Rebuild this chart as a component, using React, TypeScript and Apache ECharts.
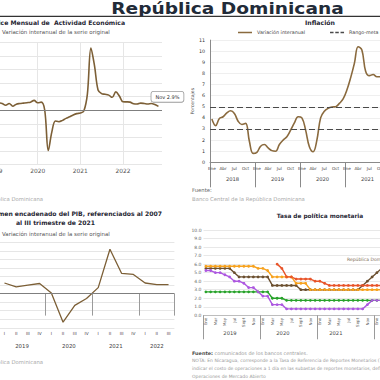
import React, { useEffect, useRef } from "react";
import * as echarts from "echarts";

const mainTitle = "República Dominicana";
const monthAbbr = ["Ene", "Feb", "Mar", "Abr", "May", "Jun", "Jul", "Ago", "Sept", "Oct", "Nov", "Dic"];

// Panel 1: IMAE (monthly, Jan 2019 - Dec 2022)
const imaeYears = ["2019", "2020", "2021", "2022"];
const imaeValues: (number | null)[] = [
  6.0, 5.5, 5.0, 3.7, 5.0, 3.0, 4.5, 5.0, 5.3, 5.6, 6.0, 7.3,
  5.5, 6.0, 0.0, -29.8, -16.0, -8.0, -8.5, -7.5, -6.0, -4.8, -3.5, -2.5,
  -2.0, -0.5, 12.0, 46.0, 33.0, 15.0, 12.3, 11.8, 11.2, 9.6, 13.6, 10.5,
  6.3, 6.2, 6.0, 4.8, 4.6, 5.3, 5.0, 4.6, 5.0, 4.2, 2.9, null,
];
const imaeLastLabel = "Nov 2.9%";

// Panel 2: inflation (monthly, Jan 2018 - Dec 2021)
const inflYears = ["2018", "2019", "2020", "2021"];
const inflValues = [
  3.9, 3.3, 3.95, 4.1, 4.45, 4.64, 4.4, 3.7, 3.4, 3.5, 1.9, 0.8,
  0.9, 1.45, 1.6, 1.3, 1.05, 1.0, 1.6, 2.0, 2.3, 2.9, 3.55, 4.1,
  4.0, 2.9, 1.4, 0.95, 2.0, 4.0, 4.6, 4.85, 4.97, 5.0, 5.3, 5.7,
  6.5, 7.6, 8.9, 10.4, 10.1, 8.2, 7.8, 7.9, 7.7, 7.7, 7.5, 8.5,
];
const inflTargetBand = [3, 5];

// Panel 3: GDP (quarterly, 2019 Q1 - 2022 Q3)
const pibYears = ["2019", "2020", "2021", "2022"];
const pibQuarters = ["I", "II", "III", "IV", "I", "II", "III", "IV", "I", "II", "III", "IV", "I", "II", "III"];
const pibValues = [6.2, 3.9, 4.9, 5.9, 0.4, -16.7, -6.9, -2.9, 3.5, 25.9, 11.8, 11.2, 6.2, 5.3, 5.3];

// Panel 4: policy rates (monthly, Jan 2019 - Mar 2022)
const tpmYears = ["2019", "2020", "2021", "2022"];
const tpmMonthCount = 39;
const tpmDominicana = [
  5.5, 5.5, 5.5, 5.5, 5.5, 5.5, 5.0, 4.5, 4.5, 4.5, 4.5, 4.5,
  4.5, 4.5, 3.5, 3.5, 3.5, 3.5, 3.5, 3.5, 3.0, 3.0, 3.0, 3.0,
  3.0, 3.0, 3.0, 3.0, 3.0, 3.0, 3.0, 3.0, 3.0, 3.5, 4.0, 4.5,
  5.0, 5.5, 5.75,
];
const tpmHonduras = [
  5.75, 5.75, 5.75, 5.75, 5.75, 5.75, 5.75, 5.75, 5.75, 5.75, 5.75, 5.5,
  5.5, 5.25, 4.5, 4.5, 4.5, 4.5, 4.5, 3.75, 3.75, 3.75, 3.0, 3.0,
  3.0, 3.0, 3.0, 3.0, 3.0, 3.0, 3.0, 3.0, 3.0, 3.0, 3.0, 3.0,
  3.0, 3.0, 3.0,
];
const tpmCostaRica = [
  5.25, 5.25, 5.0, 5.0, 4.75, 4.5, 4.0, 4.0, 3.75, 3.25, 3.25, 2.75,
  2.25, 2.25, 1.25, 1.25, 1.25, 0.75, 0.75, 0.75, 0.75, 0.75, 0.75, 0.75,
  0.75, 0.75, 0.75, 0.75, 0.75, 0.75, 0.75, 0.75, 0.75, 0.75, 1.25, 1.75,
  1.75, 1.75, 2.0,
];
const tpmGuatemala = [
  2.75, 2.75, 2.75, 2.75, 2.75, 2.75, 2.75, 2.75, 2.75, 2.75, 2.75, 2.75,
  2.75, 2.75, 2.0, 2.0, 2.0, 1.75, 1.75, 1.75, 1.75, 1.75, 1.75, 1.75,
  1.75, 1.75, 1.75, 1.75, 1.75, 1.75, 1.75, 1.75, 1.75, 1.75, 1.75, 1.75,
  1.75, 1.75, 1.75,
];
const tpmNicaragua: (number | null)[] = [
  null, null, null, null, null, null, null, null, null, null, null, null,
  null, null, null, 6.0, 5.5, 4.5, 4.5, 4.25, 4.25, 4.25, 4.25, 4.0,
  4.0, 3.75, 3.5, 3.5, 3.5, 3.5, 3.5, 3.5, 3.5, 3.5, 3.5, 3.5,
  3.5, 3.5, 3.5,
];

const FONT = "DejaVu Sans";
const TITLE_COLOR = "#1f2633";
const AXIS_TEXT = "#555";
const SOURCE_TEXT = "#a8a8a8";
const LINE_BROWN = "#7c5f36";

const monthCats = (years: string[]) => years.flatMap((y) => monthAbbr.map((m) => `${m} ${y}`));

function txt(text: string, x: number, y: number, o: any = {}) {
  return {
    type: "text",
    x,
    y,
    scaleX: o.scaleX || 1,
    silent: true,
    style: {
      text,
      fontFamily: o.fontFamily || FONT,
      fontSize: o.fontSize || 6,
      fontWeight: o.fontWeight || "normal",
      fill: o.fill || AXIS_TEXT,
      align: o.align || "left",
      verticalAlign: "middle",
      rich: o.rich,
    },
  };
}

function yearFormatter(years: string[], centers: number[]) {
  return (v: number) => {
    const i = centers.findIndex((h) => Math.abs(h - v) < 1e-6);
    return i >= 0 ? years[i] : "";
  };
}

function buildOption(): any {
  const imaeCats = monthCats(imaeYears);
  const inflCats = monthCats(inflYears);
  const tpmCats = monthCats(tpmYears).slice(0, tpmMonthCount);
  const pibCats = pibQuarters.map((q, i) => `${q} ${pibYears[Math.floor(i / 4)]}`);
  const lastIdx = imaeValues.reduce((acc: number, v, i) => (v !== null ? i : acc), 0);

  const gridBase = { containLabel: false, outerBoundsMode: "none" };

  return {
    animation: false,
    backgroundColor: "#ffffff",
    textStyle: { fontFamily: FONT },
    grid: [
      { ...gridBase, left: -5, top: 42.7, width: 167, height: 121.6 },
      { ...gridBase, left: 210, top: 40.1, width: 180, height: 122.2 },
      { ...gridBase, left: -1.4, top: 242.3, width: 175.8, height: 85.5 },
      { ...gridBase, left: 203.5, top: 230, width: 185.25, height: 85.3 },
    ],
    legend: {
      data: [
        { name: "Variación interanual", icon: "path://M0 0h24v2.6H0z" },
        { name: "Rango-meta de inflación", icon: "path://M0 0h6v2.2H0z M9 0h6v2.2H9z M18 0h6v2.2h-6z" },
      ],
      left: 238,
      top: 30,
      width: 320,
      padding: 0,
      itemWidth: 14,
      itemHeight: 6,
      itemGap: 25,
      textStyle: { fontSize: 4.8, color: "#444", fontFamily: FONT },
    },
    xAxis: [
      {
        type: "category",
        gridIndex: 0,
        data: imaeCats,
        boundaryGap: false,
        axisLine: { show: false },
        axisTick: { show: false },
        axisLabel: {
          interval: 11,
          fontSize: 5.9,
          color: AXIS_TEXT,
          margin: 4,
          formatter: (v: string) => v.split(" ")[1],
        },
        splitLine: { show: true, interval: 11, lineStyle: { color: "#e6e6e6", width: 1 } },
      },
      {
        type: "category",
        gridIndex: 1,
        data: inflCats,
        boundaryGap: true,
        position: "bottom",
        axisLine: { show: true, lineStyle: { color: "#8a8a8a", width: 1 } },
        axisTick: {
          show: true,
          interval: (i: number) => i % 12 === 0,
          length: 25,
          lineStyle: { color: "#8a8a8a", width: 1 },
        },
        axisLabel: {
          interval: 2,
          fontSize: 4.2,
          color: "#444",
          margin: 4.5,
          formatter: (v: string) => v.split(" ")[0],
        },
        splitLine: { show: false },
      },
      {
        type: "value",
        gridIndex: 1,
        position: "bottom",
        min: 0,
        max: 48,
        interval: 6,
        axisLine: { show: false },
        axisTick: { show: false },
        splitLine: { show: false },
        axisLabel: {
          fontSize: 5.2,
          color: "#444",
          margin: 14.5,
          formatter: yearFormatter(inflYears, [6, 18, 30, 42]),
        },
      },
      {
        type: "category",
        gridIndex: 2,
        data: pibCats,
        boundaryGap: true,
        position: "bottom",
        axisLine: { show: false },
        axisTick: {
          show: true,
          interval: (i: number) => i % 4 === 0,
          length: 22,
          lineStyle: { color: "#9a9a9a", width: 1 },
        },
        axisLabel: {
          interval: 0,
          fontSize: 4.3,
          color: "#444",
          margin: 4,
          formatter: (v: string) => v.split(" ")[0],
        },
        splitLine: { show: false },
      },
      {
        type: "value",
        gridIndex: 2,
        position: "bottom",
        min: 0,
        max: 15,
        interval: 0.5,
        axisLine: { show: false },
        axisTick: { show: false },
        splitLine: { show: false },
        axisLabel: {
          fontSize: 5.4,
          color: "#444",
          margin: 15.5,
          formatter: yearFormatter(pibYears, [2, 6, 10, 13.5]),
        },
      },
      {
        type: "category",
        gridIndex: 3,
        data: tpmCats,
        boundaryGap: true,
        position: "bottom",
        axisLine: { show: true, lineStyle: { color: "#bdbdbd", width: 1 } },
        axisTick: {
          show: true,
          interval: (i: number) => i % 12 === 0,
          length: 24,
          lineStyle: { color: "#9a9a9a", width: 1 },
        },
        axisLabel: {
          interval: 1,
          rotate: 90,
          fontSize: 4.0,
          color: "#555",
          margin: 2.5,
          formatter: (v: string) => v.split(" ")[0],
        },
        splitLine: { show: false },
      },
      {
        type: "value",
        gridIndex: 3,
        position: "bottom",
        min: 0,
        max: 42,
        interval: 6,
        axisLine: { show: false },
        axisTick: { show: false },
        splitLine: { show: false },
        axisLabel: {
          fontSize: 5.2,
          color: "#444",
          margin: 15,
          formatter: yearFormatter(tpmYears, [6, 18, 30]),
        },
      },
    ],
    yAxis: [
      {
        type: "value",
        gridIndex: 0,
        min: -40,
        max: 50,
        interval: 10,
        axisLabel: { show: false },
        axisLine: { show: false },
        axisTick: { show: false },
        splitLine: { lineStyle: { color: "#e6e6e6", width: 1 } },
      },
      {
        type: "value",
        gridIndex: 1,
        min: 0,
        max: 11,
        interval: 1,
        name: "Porcentajes",
        nameLocation: "middle",
        nameRotate: 90,
        nameGap: 12,
        nameTextStyle: { fontSize: 4.6, color: "#555", fontFamily: FONT },
        axisLabel: { fontSize: 4.8, color: "#333", margin: 5 },
        axisLine: { show: true, lineStyle: { color: "#8a8a8a", width: 1 } },
        axisTick: { show: false },
        splitLine: { lineStyle: { color: "#efefef", width: 1 } },
      },
      {
        type: "value",
        gridIndex: 2,
        min: -20,
        max: 30,
        interval: 5,
        axisLabel: { show: false },
        axisLine: { show: false },
        axisTick: { show: false },
        splitLine: { lineStyle: { color: "#e6e6e6", width: 1 } },
      },
      {
        type: "value",
        gridIndex: 3,
        min: 0,
        max: 10,
        interval: 1,
        axisLabel: {
          fontSize: 4.5,
          color: "#666",
          margin: 2,
          formatter: (v: number) => v.toFixed(1),
        },
        axisLine: { show: false },
        axisTick: { show: false },
        splitLine: { lineStyle: { color: "#e8e8e8", width: 1 } },
      },
    ],
    series: [
      {
        name: "IMAE",
        type: "line",
        xAxisIndex: 0,
        yAxisIndex: 0,
        data: imaeValues,
        smooth: 0.35,
        symbol: "none",
        lineStyle: { color: LINE_BROWN, width: 1.6 },
        itemStyle: { color: LINE_BROWN },
        markLine: {
          silent: true,
          symbol: ["none", "none"],
          label: { show: false },
          lineStyle: { color: "#7f7f7f", width: 1, type: "solid" },
          data: [{ yAxis: 0 }],
        },
        markPoint: {
          silent: true,
          data: [
            {
              coord: [imaeCats[lastIdx], imaeValues[lastIdx]],
              symbol: "circle",
              symbolSize: 1,
              itemStyle: { color: "rgba(0,0,0,0)" },
              label: {
                show: true,
                position: "top",
                distance: 4,
                offset: [9, 0],
                formatter: imaeLastLabel,
                fontSize: 5,
                color: "#333",
                fontFamily: FONT,
                backgroundColor: "#ffffff",
                borderColor: "#9a9a9a",
                borderWidth: 0.8,
                borderRadius: 2,
                padding: [2.5, 4],
              },
            },
          ],
        },
      },
      {
        name: "Variación interanual",
        type: "line",
        xAxisIndex: 1,
        yAxisIndex: 1,
        data: inflValues,
        smooth: 0.4,
        symbol: "none",
        lineStyle: { color: "#8a6a3e", width: 1.6 },
        itemStyle: { color: "#8a6a3e" },
      },
      {
        name: "Rango-meta de inflación",
        type: "line",
        xAxisIndex: 1,
        yAxisIndex: 1,
        data: [],
        symbol: "none",
        lineStyle: { color: "#4a4a4a", width: 1.2, type: [6, 3] },
        itemStyle: { color: "#4a4a4a" },
        markLine: {
          silent: true,
          symbol: ["none", "none"],
          label: { show: false },
          lineStyle: { color: "#4a4a4a", width: 1.2, type: [6, 3] },
          data: inflTargetBand.map((v) => ({ yAxis: v })),
        },
      },
      {
        name: "PIB",
        type: "line",
        xAxisIndex: 3,
        yAxisIndex: 2,
        data: pibValues,
        symbol: "none",
        lineStyle: { color: LINE_BROWN, width: 1.3 },
        itemStyle: { color: LINE_BROWN },
        markLine: {
          silent: true,
          symbol: ["none", "none"],
          label: { show: false },
          lineStyle: { color: "#7f7f7f", width: 1, type: "solid" },
          data: [{ yAxis: 0 }],
        },
      },
      ...[
        { name: "República Dominicana", data: tpmDominicana, color: "#6b4f2f" },
        { name: "Guatemala", data: tpmGuatemala, color: "#27a22a" },
        { name: "Costa Rica", data: tpmCostaRica, color: "#ad58e0" },
        { name: "Honduras", data: tpmHonduras, color: "#f7a21e" },
        { name: "Nicaragua", data: tpmNicaragua, color: "#e8542a" },
      ].map((s) => ({
        name: s.name,
        type: "line",
        xAxisIndex: 5,
        yAxisIndex: 3,
        data: s.data,
        symbol: "circle",
        symbolSize: 2.8,
        showSymbol: true,
        lineStyle: { color: s.color, width: 1.4 },
        itemStyle: { color: s.color },
      })),
    ],
    graphic: [
      txt(mainTitle, 227.5, 8.6, { fontSize: 15.5, scaleX: 1.2, fontWeight: "bold", fill: "#222b38", align: "center" }),
      { type: "line", silent: true, shape: { x1: 0, y1: 16.3, x2: 380, y2: 16.3 }, style: { stroke: "#333", lineWidth: 1.3 } },
      txt("Índice Mensual de  Actividad Económica", 125, 22.7, { fontSize: 6.1, fontWeight: "bold", fill: TITLE_COLOR, align: "right" }),
      txt("Variación interanual de la serie original", 2, 32.3, { fontSize: 5.5, fill: "#555" }),
      txt("Banco Central de la República Dominicana", 43, 199, { fontSize: 5.3, fill: SOURCE_TEXT, align: "right" }),
      txt("Inflación", 320, 22.7, { fontSize: 6.2, fontWeight: "bold", fill: TITLE_COLOR, align: "center" }),
      txt("Fuente:", 192, 189.5, { fontSize: 5.3, fill: "#666" }),
      txt("Banco Central de la República Dominicana", 192, 199.3, { fontSize: 5.3, fill: SOURCE_TEXT }),
      txt("Índice de volumen encadenado del PIB, referenciados al 2007", 162, 213, { fontSize: 6.1, fontWeight: "bold", fill: TITLE_COLOR, align: "right" }),
      txt("al III trimestre de 2021", 55.5, 222, { fontSize: 6.1, fontWeight: "bold", fill: TITLE_COLOR, align: "center" }),
      txt("Variación interanual de la serie original", 2, 234.3, { fontSize: 5.5, fill: "#555" }),
      txt("Banco Central de la República Dominicana", 43, 362.3, { fontSize: 5.3, fill: SOURCE_TEXT, align: "right" }),
      txt("Tasa de política monetaria", 320, 216, { fontSize: 5.8, fontWeight: "bold", fill: TITLE_COLOR, align: "center" }),
      txt("República Dominicana", 347, 259, { fontSize: 4.5, fill: "#7d6b55" }),
      txt("{a|Fuente:} comunicados de los bancos centrales.", 192, 352.7, {
        fontSize: 4.9,
        fill: "#999",
        rich: { a: { fill: "#4d4d4d", fontSize: 4.9, fontWeight: "bold", fontFamily: FONT } },
      }),
      txt("NOTA: En Nicaragua, corresponde a la Tasa de Referencia de Reportes Monetarios (TRM), que busca", 192, 360.7, { fontSize: 4.5, fill: "#999" }),
      txt("indicar el costo de operaciones a 1 día en las subastas de reportes monetarios, definidas en el Reglamento de", 192, 368.3, { fontSize: 4.5, fill: "#999" }),
      txt("Operaciones de Mercado Abierto", 192, 376, { fontSize: 4.5, fill: "#999" }),
    ],
  };
}

export default function App() {
  const ref = useRef<HTMLDivElement>(null);
  useEffect(() => {
    if (!ref.current) return;
    const chart = echarts.init(ref.current, undefined, { renderer: "svg" });
    chart.setOption(buildOption());
    return () => chart.dispose();
  }, []);
  return (
    <div
      ref={ref}
      style={{ position: "fixed", left: 0, top: 0, width: 380, height: 380, background: "#fff" }}
    />
  );
}
